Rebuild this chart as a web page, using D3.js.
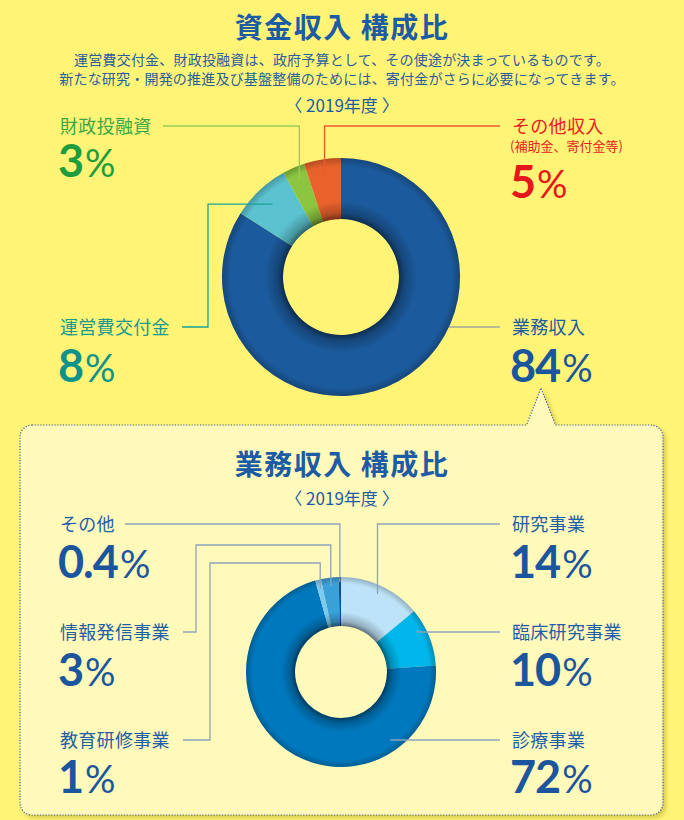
<!DOCTYPE html>
<html lang="ja">
<head>
<meta charset="utf-8">
<script src="https://cdn.jsdelivr.net/npm/d3@7"></script>
<style>
  html, body { margin: 0; padding: 0; background: #fff476; }
  svg { display: block; }
  text { font-family: "Noto Sans CJK JP", "Noto Sans", sans-serif; }
  .num { font-family: Lato, "Noto Sans", sans-serif; font-weight: 700; }
</style>
</head>
<body>
<svg id="svg"></svg>
<script>
// top chart: 資金収入
const fundCategories = ["業務収入", "運営費交付金", "財政投融資", "その他収入"];
const fundValues = [84, 8, 3, 5];
const fundPercentLabels = ["84", "8", "3", "5"];

// bottom chart: 業務収入
const bizCategories = ["研究事業", "臨床研究事業", "診療事業", "教育研修事業", "情報発信事業", "その他"];
const bizValues = [14, 10, 72, 1, 3, 0.4];
const bizPercentLabels = ["14", "10", "72", "1", "3", "0.4"];

const subtitleLines = [
  "運営費交付金、財政投融資は、政府予算として、その使途が決まっているものです。",
  "新たな研究・開発の推進及び基盤整備のためには、寄付金がさらに必要になってきます。"
];
const yearLabel = "〈 2019年度 〉";

const width = 684, height = 820;
const blueText = "#1c5ba5";

const svg = d3.select("#svg").attr("width", width).attr("height", height);
const defs = svg.append("defs");

// colours
const fundColor = d3.scaleOrdinal()
  .domain(fundCategories)
  .range(["#1b5a9c", "#5bc2cf", "#8cc540", "#e9622c"]);
const bizColor = d3.scaleOrdinal()
  .domain(bizCategories)
  .range(["#bde3f8", "#00b6ea", "#0078bd", "#7ecbef", "#3aa0d8", "#0b4c9c"]);

// shadow for the callout box
const shadow = defs.append("filter").attr("id", "boxShadow")
  .attr("x", "-5%").attr("y", "-5%").attr("width", "110%").attr("height", "110%");
shadow.append("feDropShadow")
  .attr("dx", 3).attr("dy", 3).attr("stdDeviation", 2)
  .attr("flood-color", "#b8a830").attr("flood-opacity", 0.55);

// ---------- headings ----------
svg.append("text")
  .attr("x", width / 2).attr("y", 38)
  .attr("text-anchor", "middle")
  .attr("font-size", 28).attr("font-weight", 700)
  .attr("letter-spacing", 1.5)
  .attr("fill", blueText)
  .text("資金収入 構成比");

svg.selectAll(".subtitle")
  .data(subtitleLines)
  .enter()
  .append("text")
  .attr("class", "subtitle")
  .attr("x", width / 2)
  .attr("y", (d, i) => 65 + i * 19)
  .attr("text-anchor", "middle")
  .attr("font-size", 14)
  .attr("letter-spacing", 0.2)
  .attr("fill", "#2a5d9f")
  .text(d => d);

svg.append("text")
  .attr("x", width / 2).attr("y", 112)
  .attr("text-anchor", "middle")
  .attr("font-size", 17)
  .attr("fill", blueText)
  .text(yearLabel);

// ---------- callout box (drawn before the lower donut) ----------
const box = { x0: 20, x1: 663, y0: 425, y1: 815, r: 12, tipX: 541, tipY: 388, tipHalf: 14.5 };
const boxPath = d3.path();
boxPath.moveTo(box.x0 + box.r, box.y0);
boxPath.lineTo(box.tipX - box.tipHalf, box.y0);
boxPath.lineTo(box.tipX, box.tipY);
boxPath.lineTo(box.tipX + box.tipHalf, box.y0);
boxPath.lineTo(box.x1 - box.r, box.y0);
boxPath.arcTo(box.x1, box.y0, box.x1, box.y0 + box.r, box.r);
boxPath.lineTo(box.x1, box.y1 - box.r);
boxPath.arcTo(box.x1, box.y1, box.x1 - box.r, box.y1, box.r);
boxPath.lineTo(box.x0 + box.r, box.y1);
boxPath.arcTo(box.x0, box.y1, box.x0, box.y1 - box.r, box.r);
boxPath.lineTo(box.x0, box.y0 + box.r);
boxPath.arcTo(box.x0, box.y0, box.x0 + box.r, box.y0, box.r);
boxPath.closePath();

svg.append("path")
  .attr("d", boxPath.toString())
  .attr("fill", "#fff9ba")
  .attr("filter", "url(#boxShadow)");
svg.append("path")
  .attr("d", boxPath.toString())
  .attr("fill", "none")
  .attr("stroke", "#3e5f95")
  .attr("stroke-width", 1.2)
  .attr("stroke-dasharray", "1.2,1.6");

svg.append("text")
  .attr("x", width / 2).attr("y", 475)
  .attr("text-anchor", "middle")
  .attr("font-size", 28).attr("font-weight", 700)
  .attr("letter-spacing", 1.5)
  .attr("fill", blueText)
  .text("業務収入 構成比");

svg.append("text")
  .attr("x", width / 2).attr("y", 505)
  .attr("text-anchor", "middle")
  .attr("font-size", 17)
  .attr("fill", blueText)
  .text(yearLabel);

// ---------- donut helper ----------
function drawDonut(opts) {
  const pie = d3.pie().sort(null).value(d => d.value);
  const arcs = pie(opts.categories.map((c, i) => ({ cat: c, value: opts.values[i] })));
  const arc = d3.arc().innerRadius(opts.inner).outerRadius(opts.outer);

  const g = svg.append("g").attr("transform", `translate(${opts.cx}, ${opts.cy})`);

  g.selectAll("path.slice")
    .data(arcs)
    .enter()
    .append("path")
    .attr("class", "slice")
    .attr("d", arc)
    .attr("fill", d => opts.color(d.data.cat));

  // soft inner/outer shading like the printed version
  const gradId = opts.id + "Shade";
  const grad = defs.append("radialGradient")
    .attr("id", gradId)
    .attr("gradientUnits", "userSpaceOnUse")
    .attr("cx", 0).attr("cy", 0).attr("r", opts.outer);
  const k = opts.inner / opts.outer;
  [[k, 0.5], [k + 0.05, 0.22], [k + 0.15, 0], [0.93, 0], [1, 0.22]].forEach(s => {
    grad.append("stop")
      .attr("offset", s[0])
      .attr("stop-color", "#000")
      .attr("stop-opacity", s[1]);
  });
  g.append("path")
    .attr("d", d3.arc().innerRadius(opts.inner).outerRadius(opts.outer)
      .startAngle(0).endAngle(2 * Math.PI)())
    .attr("fill", `url(#${gradId})`);

  // point at given radius along the slice's middle angle (absolute coords)
  const midPoint = (i, r) => {
    const a = (arcs[i].startAngle + arcs[i].endAngle) / 2;
    return [opts.cx + r * Math.sin(a), opts.cy - r * Math.cos(a)];
  };
  // x where a horizontal line at y meets a circle of radius r
  const ringX = (y, r, side) => opts.cx + side * Math.sqrt(r * r - (y - opts.cy) * (y - opts.cy));

  return { arcs, midPoint, ringX };
}

function leader(points, color) {
  svg.append("path")
    .attr("d", d3.line()(points))
    .attr("fill", "none")
    .attr("stroke", color)
    .attr("stroke-width", 1.3);
}

function label(x, y, name, pct, nameColor, pctColor, numBaseline) {
  svg.append("text")
    .attr("x", x).attr("y", y + 6.5)
    .attr("font-size", 18)
    .attr("letter-spacing", 0.3)
    .attr("fill", nameColor)
    .text(name);
  const t = svg.append("text")
    .attr("class", "num")
    .attr("x", x - 2).attr("y", numBaseline)
    .attr("font-size", 45)
    .attr("fill", pctColor)
    .attr("letter-spacing", -1);
  t.append("tspan").text(pct);
  t.append("tspan").attr("font-weight", 400).attr("font-size", 38).attr("dx", 2).text("%");
  return t;
}

// ---------- top donut ----------
const fundDonut = drawDonut({
  id: "fund", cx: 341, cy: 277, inner: 58, outer: 119,
  categories: fundCategories, values: fundValues, color: fundColor
});

const fundText = {
  "業務収入": { name: "#1c5ba5", num: "#1a559e", line: "#a6a6a0" },
  "運営費交付金": { name: "#1a9a90", num: "#0f928a", line: "#1aa39a" },
  "財政投融資": { name: "#3aa847", num: "#1f9c3d", line: "#98cb55" },
  "その他収入": { name: "#e8201f", num: "#e5171b", line: "#ea5a2c" }
};

// 財政投融資
let p = fundDonut.midPoint(2, 105);
leader([[163, 126], [p[0], 126], p], fundText["財政投融資"].line);
label(60, 126, fundCategories[2], fundPercentLabels[2],
  fundText["財政投融資"].name, fundText["財政投融資"].num, 177);

// その他収入
p = fundDonut.midPoint(3, 105);
leader([[500, 126], [p[0], 126], p], fundText["その他収入"].line);
label(512, 126, fundCategories[3], fundPercentLabels[3],
  fundText["その他収入"].name, fundText["その他収入"].num, 198);
svg.append("text")
  .attr("x", 510).attr("y", 151)
  .attr("font-size", 13)
  .attr("fill", "#e8201f")
  .text("(補助金、寄付金等)");

// 運営費交付金
p = fundDonut.midPoint(1, 100);
leader([[182, 327], [208, 327], [208, p[1]], p], fundText["運営費交付金"].line);
label(60, 327, fundCategories[1], fundPercentLabels[1],
  fundText["運営費交付金"].name, fundText["運営費交付金"].num, 382);

// 業務収入
leader([[500, 327], [fundDonut.ringX(327, 119, 1), 327]], fundText["業務収入"].line);
label(512, 327, fundCategories[0], fundPercentLabels[0],
  fundText["業務収入"].name, fundText["業務収入"].num, 382);

// ---------- bottom donut ----------
const bizDonut = drawDonut({
  id: "biz", cx: 341, cy: 672, inner: 46, outer: 95,
  categories: bizCategories, values: bizValues, color: bizColor
});

const lineGray = "#8ea3b8";
const nameBlue = "#1f5ea8";
const numBlue = "#1a559e";

// その他
p = bizDonut.midPoint(5, 90);
leader([[125, 524], [p[0], 524], p], lineGray);
label(60, 524, bizCategories[5], bizPercentLabels[5], nameBlue, numBlue, 578);

// 情報発信事業
p = bizDonut.midPoint(4, 86);
leader([[183, 632], [196, 632], [196, 545], [p[0], 545], p], lineGray);
label(60, 632, bizCategories[4], bizPercentLabels[4], nameBlue, numBlue, 686);

// 教育研修事業
p = bizDonut.midPoint(3, 86);
leader([[183, 740], [210, 740], [210, 563], [p[0], 563], p], lineGray);
label(60, 740, bizCategories[3], bizPercentLabels[3], nameBlue, numBlue, 793);

// 研究事業
p = bizDonut.midPoint(0, 86);
leader([[500, 524], [p[0], 524], p], lineGray);
label(512, 524, bizCategories[0], bizPercentLabels[0], nameBlue, numBlue, 578);

// 臨床研究事業
leader([[500, 632], [bizDonut.ringX(632, 86, 1), 632]], lineGray);
label(512, 632, bizCategories[1], bizPercentLabels[1], nameBlue, numBlue, 686);

// 診療事業
leader([[500, 740], [bizDonut.ringX(740, 84, 1), 740]], lineGray);
label(512, 740, bizCategories[2], bizPercentLabels[2], nameBlue, numBlue, 793);
</script>
</body>
</html>
